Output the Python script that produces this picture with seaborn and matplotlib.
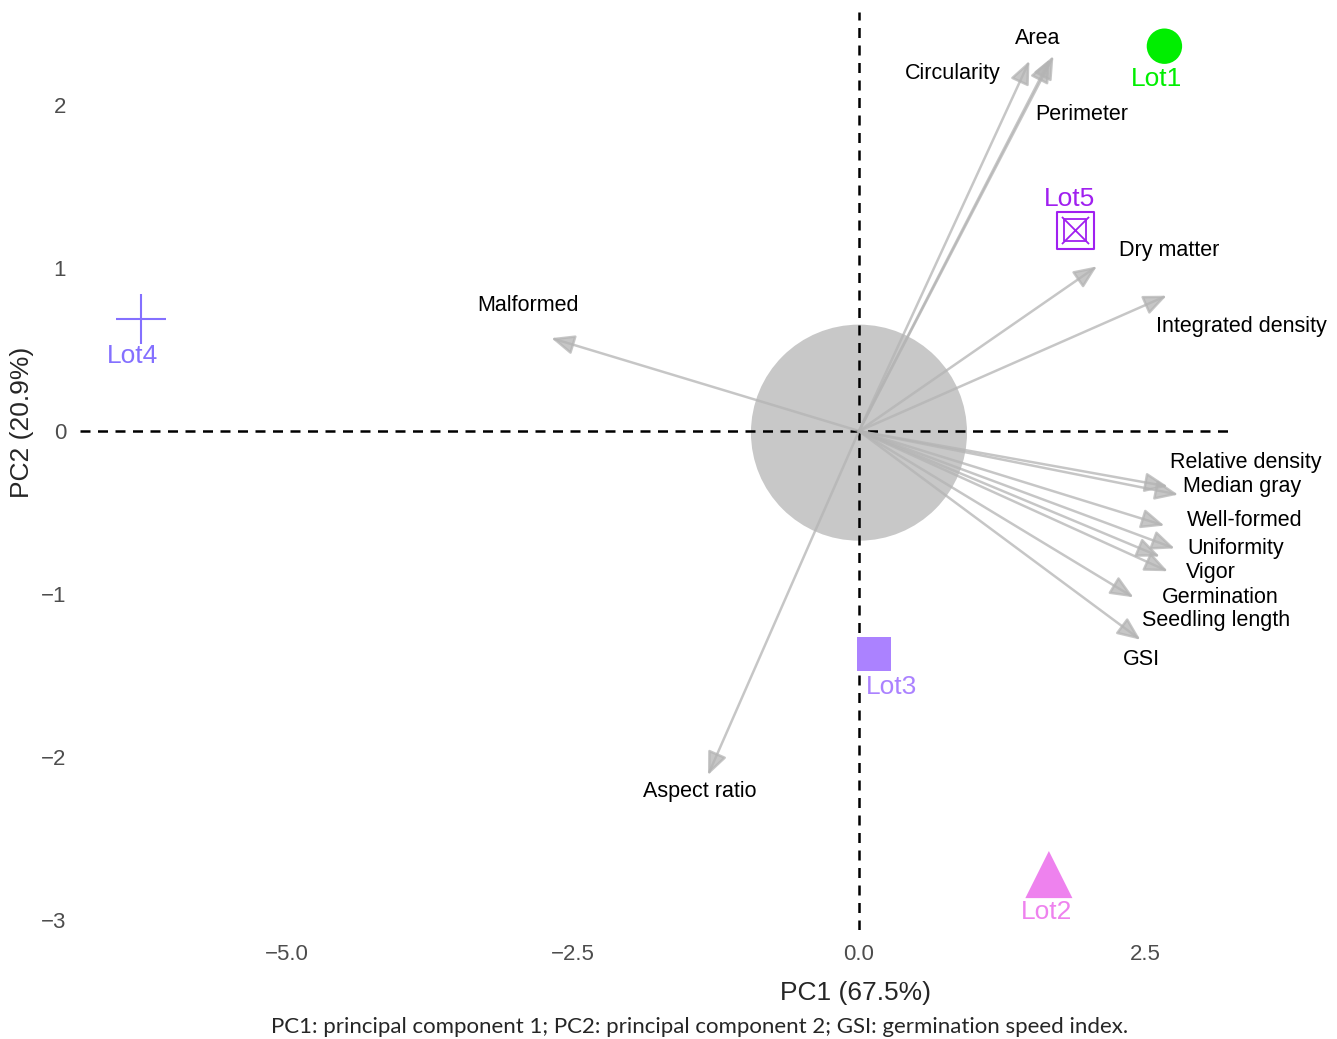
import numpy as np
import pandas as pd
import matplotlib
matplotlib.use("Agg")
import matplotlib.pyplot as plt
import seaborn as sns

# Lot scores (PC1, PC2)
lots = ["Lot1", "Lot2", "Lot3", "Lot4", "Lot5"]
lot_pc1 = [2.67, 1.66, 0.13, -6.28, 1.89]
lot_pc2 = [2.36, -2.72, -1.37, 0.69, 1.23]
lot_label_x = [2.60, 1.64, 0.28, -6.35, 1.84]
lot_label_y = [2.16, -2.95, -1.57, 0.46, 1.42]
lot_colors = ["#00ee00", "#ee82ee", "#ab82ff", "#8470ff", "#a020f0"]

# Variable loadings (arrow tips) and repelled label positions
variables = ["Area", "Perimeter", "Circularity", "Dry matter", "Integrated density",
             "Malformed", "Relative density", "Median gray", "Well-formed", "Uniformity",
             "Vigor", "Seedling length", "Germination", "GSI", "Aspect ratio"]
var_pc1 = [1.70, 1.67, 1.49, 2.08, 2.69, -2.69, 2.70, 2.79, 2.67, 2.76, 2.70, 2.63, 2.40, 2.46, -1.32]
var_pc2 = [2.30, 2.28, 2.27, 1.01, 0.83, 0.57, -0.34, -0.39, -0.58, -0.72, -0.86, -0.77, -1.02, -1.28, -2.11]
var_label_x = [1.565, 1.95, 0.82, 2.71, 3.34, -2.89, 3.38, 3.35, 3.37, 3.29, 3.08, 3.12, 3.16, 2.47, -1.39]
var_label_y = [2.41, 1.94, 2.19, 1.11, 0.64, 0.77, -0.19, -0.34, -0.55, -0.72, -0.87, -1.16, -1.02, -1.40, -2.21]

sns.set_style("white")
plt.rcParams['font.family'] = ['Liberation Sans', 'DejaVu Sans']

fig = plt.figure(figsize=(13.37, 10.39), dpi=100)
ax = fig.add_axes([0.0598, 0.1049, 0.8616, 0.8836])
ax.set_xlim(-6.81, 3.26)
ax.set_ylim(-3.06, 2.57)

# grey circle at origin
ax.scatter([0], [-0.01], s=24200, color="#c8c8c8", edgecolors="none", zorder=1)

# reference lines
ax.axhline(0, color="black", lw=1.8, ls=(0, (4, 3)), zorder=2)
ax.axvline(0, color="black", lw=1.8, ls=(0, (4, 3)), zorder=2)

# loading arrows
for x, y in zip(var_pc1, var_pc2):
    ax.annotate("", xy=(x, y), xytext=(0, 0),
                arrowprops=dict(arrowstyle="-|>,head_length=1.4,head_width=0.6",
                                color="#b4b4b4", lw=1.8, alpha=0.75,
                                shrinkA=0, shrinkB=0), zorder=3)
for name, x, y in zip(variables, var_label_x, var_label_y):
    ax.text(x, y, name, fontsize=15.5, ha="center", va="center", color="black",
            zorder=5, clip_on=False)

# lot scores
df = pd.DataFrame({"PC1": lot_pc1, "PC2": lot_pc2, "Lot": lots})
markers = {"Lot1": "o", "Lot2": "^", "Lot3": "s", "Lot4": "+", "Lot5": "s"}
sizes = {"Lot1": 650, "Lot2": 1150, "Lot3": 600, "Lot4": 1300, "Lot5": 700}
for lot, col in zip(lots, lot_colors):
    sub = df[df["Lot"] == lot]
    if lot == "Lot5":
        sns.scatterplot(data=sub, x="PC1", y="PC2", marker="s", s=sizes[lot],
                        facecolor="none", edgecolor=col, linewidth=1.5, ax=ax, zorder=6)
        sns.scatterplot(data=sub, x="PC1", y="PC2", marker="s", s=250,
                        facecolor="none", edgecolor=col, linewidth=1.3, ax=ax, zorder=6)
        sns.scatterplot(data=sub, x="PC1", y="PC2", marker="x", s=380,
                        color=col, linewidth=1.3, ax=ax, zorder=6)
    elif lot == "Lot4":
        sns.scatterplot(data=sub, x="PC1", y="PC2", marker="+", s=sizes[lot],
                        color=col, linewidth=1.5, ax=ax, zorder=6)
    else:
        sns.scatterplot(data=sub, x="PC1", y="PC2", marker=markers[lot], s=sizes[lot],
                        color=col, edgecolor="none", linewidth=0, ax=ax, zorder=6)
for lot, col, x, y in zip(lots, lot_colors, lot_label_x, lot_label_y):
    ax.text(x, y, lot, fontsize=19, ha="center", va="center", color=col, zorder=7)

ax.set_xticks([-5.0, -2.5, 0.0, 2.5])
ax.set_xticklabels(["\u22125.0", "\u22122.5", "0.0", "2.5"])
ax.set_yticks([-3, -2, -1, 0, 1, 2])
ax.set_yticklabels(["\u22123", "\u22122", "\u22121", "0", "1", "2"])
ax.tick_params(axis="both", length=0, labelsize=16, labelcolor="#4d4d4d")
ax.tick_params(axis="x", pad=10)
ax.tick_params(axis="y", pad=10)
for s in ax.spines.values():
    s.set_visible(False)
ax.set_xlabel("PC1 (67.5%)", fontsize=19)
ax.set_ylabel("PC2 (20.9%)", fontsize=19, va="center")
ax.xaxis.set_label_coords(0.673, -0.055)
ax.yaxis.set_label_coords(-0.050, 0.553)

fig.text(0.523, 0.012, "PC1: principal component 1; PC2: principal component 2; GSI: germination speed index.",
         fontsize=16, ha="center", va="center", family=["Lato", "DejaVu Sans"])

fig.savefig("out.png", dpi=100)
